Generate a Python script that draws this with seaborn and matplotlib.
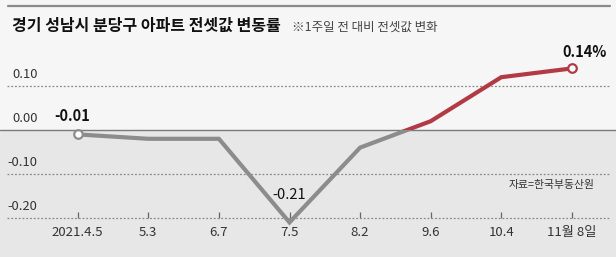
import matplotlib
matplotlib.use("Agg")
import matplotlib.pyplot as plt
import matplotlib.patches as mpatches
import matplotlib.transforms as mtrans
import seaborn as sns
import pandas as pd

dates = ["2021.4.5", "5.3", "6.7", "7.5", "8.2", "9.6", "10.4", "11월 8일"]
values = [-0.01, -0.02, -0.02, -0.21, -0.04, 0.02, 0.12, 0.14]
ytick_vals = [0.10, 0.00, -0.10, -0.20]
ytick_labels = ["0.10", "0.00", "-0.10", "-0.20"]
title = "경기 성남시 분당구 아파트 전셋값 변동률"
subtitle = "※1주일 전 대비 전셋값 변화"
source = "자료=한국부동산원"

sns.set_style("white")
plt.rcParams["font.family"] = ["Noto Sans CJK KR", "DejaVu Sans"]

df = pd.DataFrame({"pos": list(range(len(dates))), "value": values, "date": dates})

W, H = 616, 257
fig = plt.figure(figsize=(W / 100, H / 100), dpi=100)
bg_top = "#f6f6f6"
bg_bot = "#e7e7e7"
fig.patch.set_facecolor(bg_top)

ax = fig.add_axes([0, 0, 1, 207 / H])
ax.set_facecolor(bg_top)
ymin, ymax = (130 - 257) / 440, (130 - 50) / 440
xmin, xmax = -77.7 / 70.6, (616 - 77.7) / 70.6
ax.set_ylim(ymin, ymax)
ax.set_xlim(xmin, xmax)

ax.axhspan(ymin, 0, color=bg_bot, zorder=0, lw=0)

# gridlines
for v in ytick_vals:
    if v == 0:
        ax.axhline(0, color="#7a7a7a", lw=1.0, zorder=1)
    else:
        ax.axhline(v, xmin=7 / W, xmax=610 / W, color="#8a8a8a", lw=0.9,
                   ls=(0, (1.5, 1.5)), zorder=1)

# y labels
tr = mtrans.blended_transform_factory(ax.transAxes, ax.transData)
for v, lab in zip(ytick_vals, ytick_labels):
    ax.text(37.5 / W, v + 0.012, lab, transform=tr, ha="right", va="bottom",
            fontsize=9.3, color="#333333")

gray = "#8c8c8c"
red = "#b13a45"

sns.lineplot(data=df, x="pos", y="value", ax=ax, color=gray, lw=3.0, zorder=3)
sns.lineplot(data=df, x="pos", y="value", ax=ax, color=red, lw=3.0, zorder=3)
lines = ax.get_lines()
gline, rline = lines[-2], lines[-1]
for ln in (gline, rline):
    ln.set_solid_capstyle("butt")
    ln.set_solid_joinstyle("miter")
clip_low = mpatches.Rectangle((xmin, ymin), xmax - xmin, 0 - ymin, transform=ax.transData)
clip_high = mpatches.Rectangle((xmin, 0), xmax - xmin, ymax, transform=ax.transData)
gline.set_clip_path(clip_low)
rline.set_clip_path(clip_high)

ends = df.iloc[[0, -1]]
ax.scatter(ends["pos"].iloc[0], ends["value"].iloc[0], s=38, facecolor="white",
           edgecolor=gray, lw=1.6, zorder=5)
ax.scatter(ends["pos"].iloc[1], ends["value"].iloc[1], s=38, facecolor="white",
           edgecolor=red, lw=1.6, zorder=5)

# annotations
ax.annotate("-0.01", (0, values[0]), xytext=(-6, 10), textcoords="offset pixels",
            ha="center", va="bottom", fontsize=10.5, fontweight="bold", color="#111111")
ax.annotate("-0.21", (3, values[3]), xytext=(0, 20), textcoords="offset pixels",
            ha="center", va="bottom", fontsize=10.5, color="#111111")
ax.annotate("0.14%", (7, values[7]), xytext=(13, 8), textcoords="offset pixels",
            ha="center", va="bottom", fontsize=10.5, fontweight="bold", color="#111111")

ax.text(595 / W, -0.125, source, transform=tr, ha="right", va="center",
        fontsize=7.8, color="#333333")

# x axis
ax.set_xticks(df["pos"])
ax.set_xticklabels(dates)
ax.spines["bottom"].set_position(("data", -0.20))
for s in ax.spines.values():
    s.set_visible(False)
ax.tick_params(axis="x", direction="in", length=4, width=0.9, color="#666666",
               pad=5.5, labelsize=9.5, labelcolor="#333333", bottom=True)
ax.tick_params(axis="y", left=False, labelleft=False)
ax.set_xlabel("")
ax.set_ylabel("")

# header
fig.add_artist(plt.Line2D([8 / W, 610 / W], [1 - 6 / H, 1 - 6 / H], color="#8a8a8a", lw=1.6))
fig.text(12 / W, 1 - 26 / H, title, ha="left", va="center", fontsize=11.5,
         fontweight="bold", color="#111111")
fig.text(292 / W, 1 - 27 / H, subtitle, ha="left", va="center", fontsize=9.0,
         color="#444444")

fig.savefig("out.png", dpi=100, facecolor=fig.get_facecolor())
